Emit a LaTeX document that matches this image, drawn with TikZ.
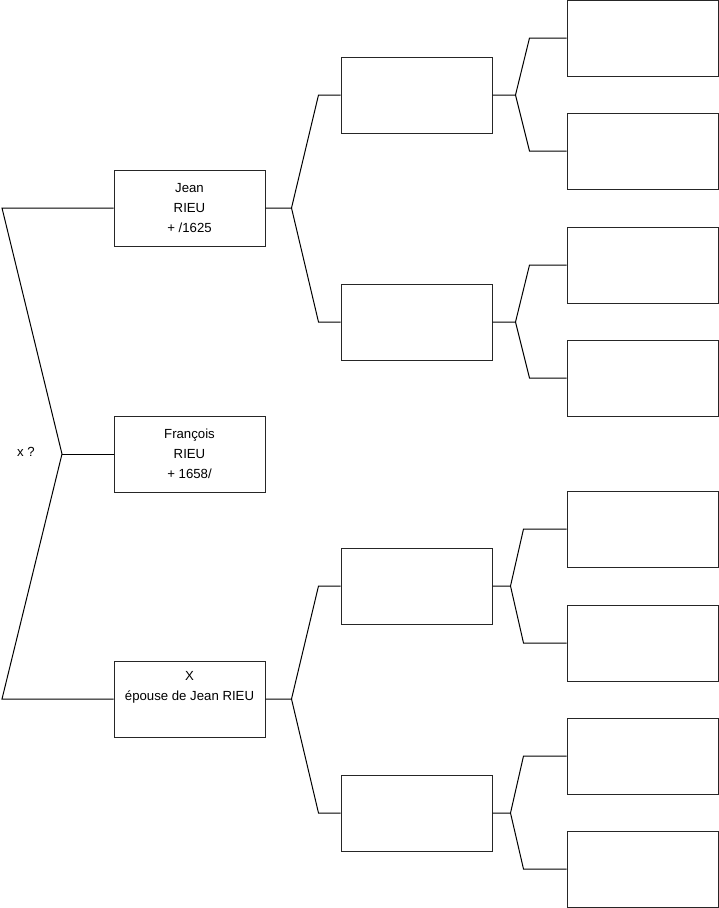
\documentclass[tikz,border=0pt]{standalone}
\usepackage{fontspec}
\setmainfont{Liberation Sans}
\usetikzlibrary{positioning}

\begin{document}
\begin{tikzpicture}[x=1pt,y=-1pt,line width=1pt,
    box/.style={draw=black!85,minimum width=151pt,minimum height=76pt,inner sep=0pt,
      align=center,font=\fontsize{13.2}{20}\selectfont}]
    \useasboundingbox (0,0) rectangle (719,908);

    % first generation
    \node[box] (f) at (189.5,208) {Jean\\RIEU\\+ /1625};
    \node[box] (p1) at (189.5,454) {François\\RIEU\\+ 1658/};
    \node[box] (m) at (189.5,699) {X\\épouse de Jean RIEU\\\strut};

    % second generation
    \node[box] (ff) at (416.5,95) {};
    \node[box] (fm) at (416.5,322) {};
    \node[box] (mf) at (416.5,586) {};
    \node[box] (mm) at (416.5,813) {};

    % third generation
    \node[box] (fff) at (642.5,38) {};
    \node[box] (ffm) at (642.5,151) {};
    \node[box] (fmf) at (642.5,265) {};
    \node[box] (fmm) at (642.5,378) {};
    \node[box] (mff) at (642.5,529) {};
    \node[box] (mfm) at (642.5,643) {};
    \node[box] (mmf) at (642.5,756) {};
    \node[box] (mmm) at (642.5,869) {};

    % left fork with the unknown spouse
    \coordinate (l1) at (2,208);
    \coordinate (lj) at (62,454);
    \coordinate (l2) at (2,699);
    \draw (f.west) -- (l1) -- (lj) -- (l2) -- (m.west);
    \draw (lj) -- (p1.west);
    \node[font=\fontsize{13.2}{14}\selectfont] (xq) at (26,452) {x ?};

    % forks to the parents
    \foreach \pa/\ca/\cb/\d/\e in {f/ff/fm/26/22, m/mf/mm/26/22,
        ff/fff/ffm/23/37, fm/fmf/fmm/23/37, mf/mff/mfm/18/43, mm/mmf/mmm/18/43} {
      \draw (\pa.east) -- ([xshift=\d]\pa.east) coordinate (j)
        -- ([xshift=-\e]\ca.west) -- (\ca.west);
      \draw (j) -- ([xshift=-\e]\cb.west) -- (\cb.west);
    }
\end{tikzpicture}
\end{document}
